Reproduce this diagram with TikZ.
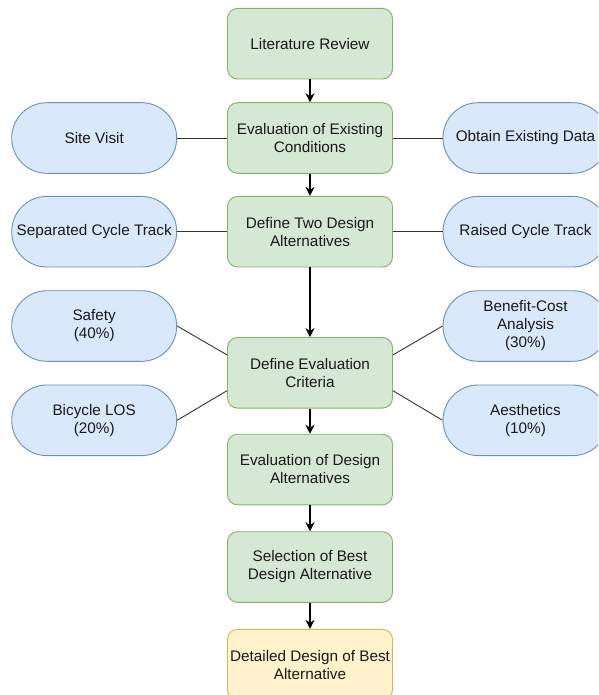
\documentclass[tikz,border=0pt]{standalone}
\usepackage{fontspec}
\setmainfont{Liberation Sans}
\usetikzlibrary{arrows.meta,calc}
\definecolor{gfill}{HTML}{D5E8D4}
\definecolor{gline}{HTML}{82B366}
\definecolor{bfill}{HTML}{DAE8FC}
\definecolor{bline}{HTML}{6C8EBF}
\definecolor{yfill}{HTML}{FFF2CC}
\definecolor{yline}{HTML}{D6B656}
\definecolor{conn}{HTML}{333333}
\tikzset{
  base/.style={minimum width=165pt, minimum height=70.6pt, align=center, inner sep=2pt,
    font=\fontsize{15.3pt}{18pt}\selectfont, text=black!90, line width=0.9pt},
  gbox/.style={base, rectangle, rounded corners=10pt, fill=gfill, draw=gline},
  ybox/.style={base, rectangle, rounded corners=10pt, fill=yfill, draw=yline},
  pill/.style={base, rectangle, rounded corners=35.2pt, fill=bfill, draw=bline},
  arr/.style={-{Stealth[length=9pt,width=9pt]}, line width=1.1pt, black},
  lnk/.style={line width=0.9pt, conn},
}
\begin{document}
\begin{tikzpicture}[x=1pt,y=-1pt]
\useasboundingbox (0,0) rectangle (598,695);
\clip (0,0) rectangle (598,695);
% main column
\node[gbox] (lit) at (310,43.7) {Literature Review};
\node[gbox] (eec) at (310,138) {Evaluation of Existing\\Conditions};
\node[gbox] (dtd) at (310,231.7) {Define Two Design\\Alternatives};
\node[gbox] (dec) at (310,372.8) {Define Evaluation\\Criteria};
\node[gbox] (eda) at (310,469.5) {Evaluation of Design\\Alternatives};
\node[gbox] (sel) at (310,567) {Selection of Best\\Design Alternative};
\node[ybox] (det) at (310,664.6) {Detailed Design of Best\\Alternative};
% side pills
\node[pill] (site) at (94.2,138) {Site Visit};
\node[pill] (obt) at (525.5,138) {Obtain Existing Data};
\node[pill] (sep) at (94.2,231.7) {Separated Cycle Track};
\node[pill] (rai) at (525.5,231.7) {Raised Cycle Track};
\node[pill] (saf) at (94.2,326) {Safety\\(40\%)};
\node[pill] (bic) at (94.2,420.3) {Bicycle LOS\\(20\%)};
\node[pill] (ben) at (525.5,326) {Benefit-Cost\\Analysis\\(30\%)};
\node[pill] (aes) at (525.5,420.3) {Aesthetics\\(10\%)};
% arrows
\draw[arr] (lit) -- (eec);
\draw[arr] (eec) -- (dtd);
\draw[arr] (dtd) -- (dec);
\draw[arr] (dec) -- (eda);
\draw[arr] (eda) -- (sel);
\draw[arr] (sel) -- (det);
% links
\draw[lnk] (site.east) -- (eec.west);
\draw[lnk] (eec.east) -- (obt.west);
\draw[lnk] (sep.east) -- (dtd.west);
\draw[lnk] (dtd.east) -- (rai.west);
\draw[lnk] (saf.east) -- ($(dec.north west)!0.25!(dec.south west)$);
\draw[lnk] (bic.east) -- ($(dec.north west)!0.75!(dec.south west)$);
\draw[lnk] ($(dec.north east)!0.25!(dec.south east)$) -- (ben.west);
\draw[lnk] ($(dec.north east)!0.75!(dec.south east)$) -- (aes.west);
\end{tikzpicture}
\end{document}
